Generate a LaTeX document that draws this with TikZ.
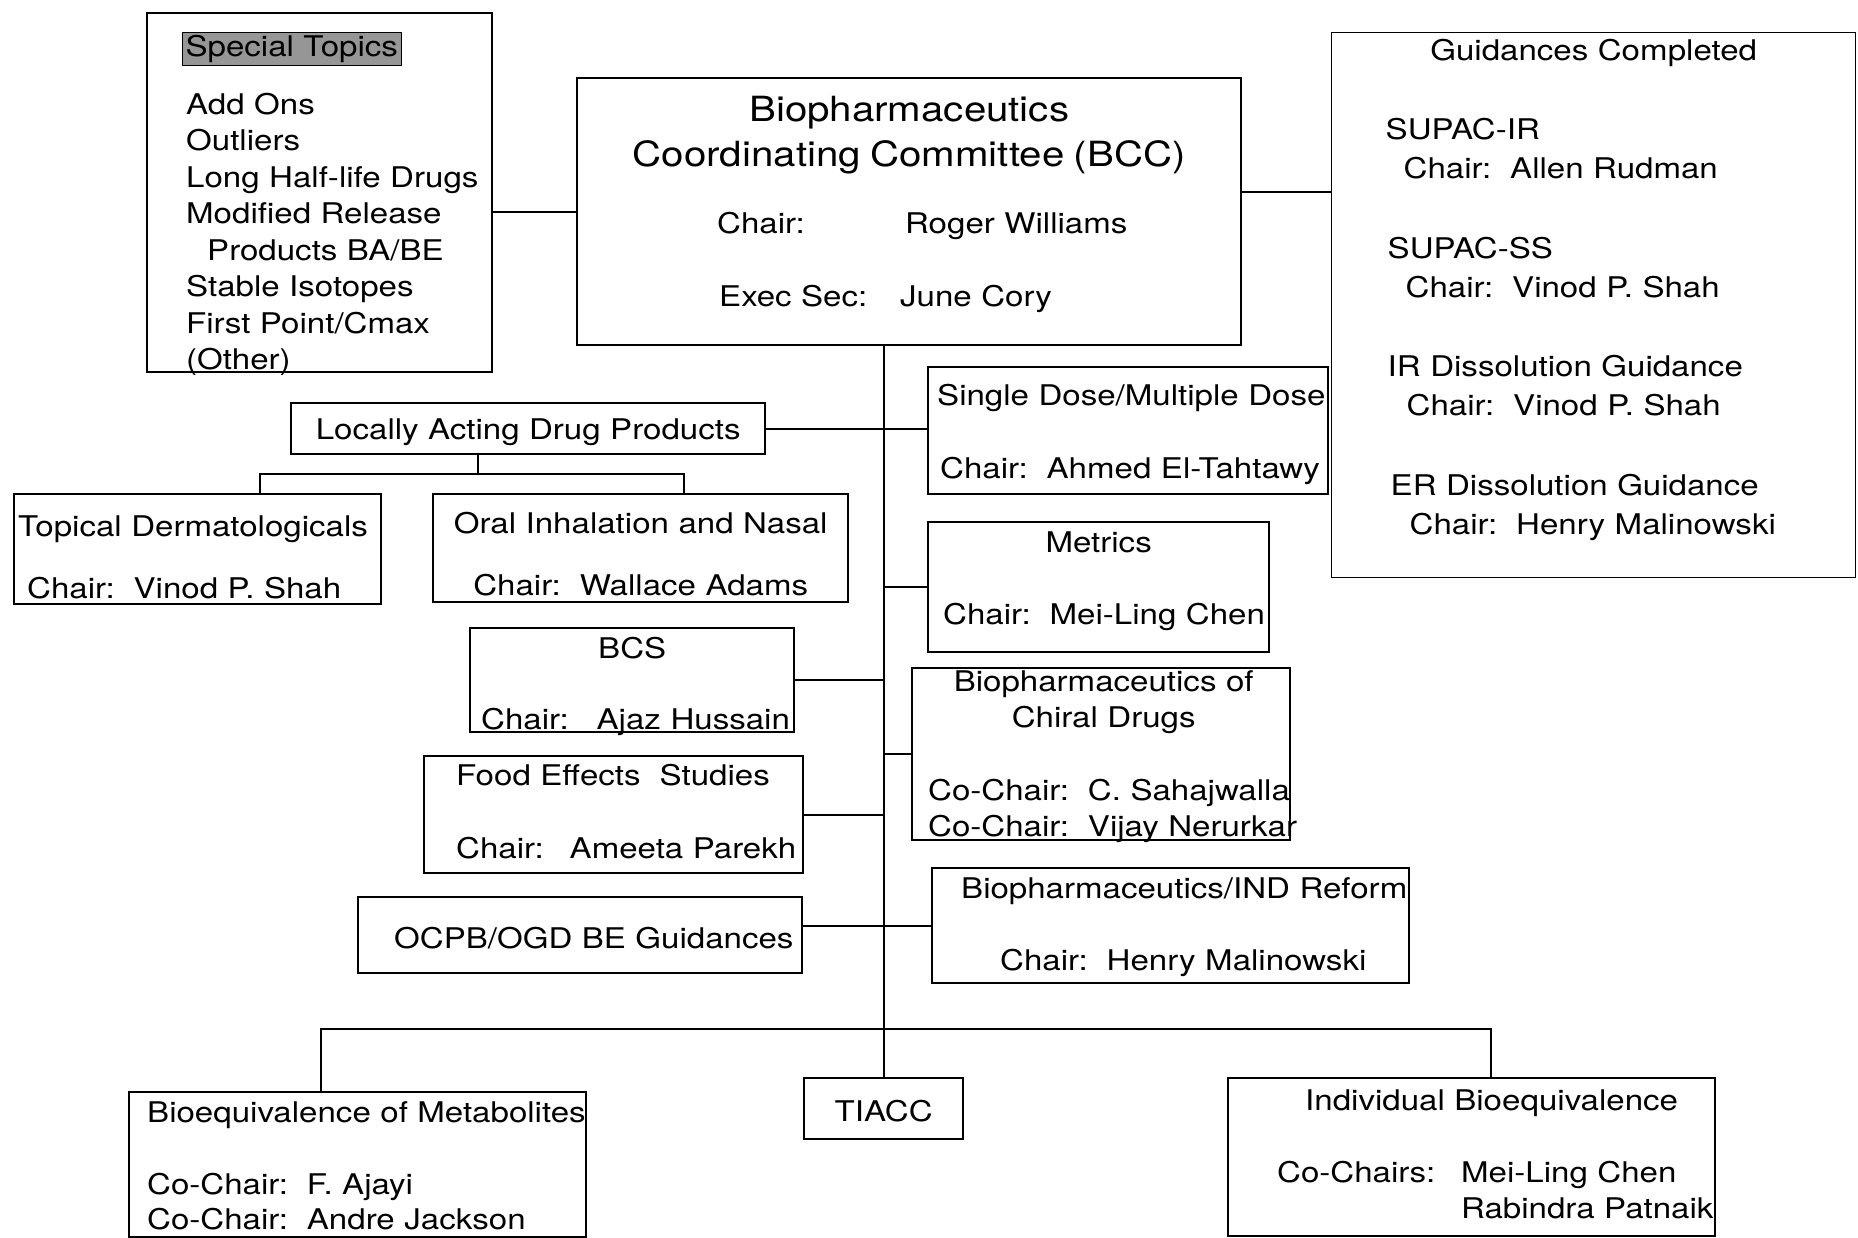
\documentclass[tikz,border=0pt]{standalone}
\usepackage{fontspec}
\setmainfont{TeX Gyre Heros}[FakeStretch=1.16]
\usepackage{xcolor}
\usepackage{tikz}
\definecolor{tophighlight}{RGB}{150,150,150}
\newcommand{\boxfont}{\fontsize{28.5pt}{36.5pt}\selectfont}
\newcommand{\bccfont}{\fontsize{34.7pt}{45pt}\selectfont}
\newcommand{\midline}[1]{\hfill#1\hfill\null}
\newcommand{\chairgap}{\hspace{19pt}}

\begin{document}
\begin{tikzpicture}[
  x=1pt, y=-1pt,
  font=\boxfont,
  unit/.style={draw, line width=2.4pt, anchor=north west, align=left, inner xsep=-20pt, inner ysep=0pt},
  guide/.style={unit, line width=1.4pt},
  link/.style={line width=2pt}
]
\path[fill=white, use as bounding box] (0,0) rectangle (1858,1238);

\node[unit, text width=385pt, text height=43pt, text depth=316pt] (special) at (146,12)
  {\leftskip=59pt\hspace*{-4pt}\fcolorbox{black}{tophighlight}{Special Topics}\\[21.5pt]
   Add Ons\\Outliers\\Long Half-life Drugs\\Modified Release\\\hspace*{21pt}Products BA/BE\\Stable Isotopes\\First Point/Cmax\\(Other)\par};
\node[unit, text width=704pt, text height=43pt, text depth=224pt] (bcc) at (576,77)
  {{\bccfont\midline{Biopharmaceutics}\\[8.5pt]\midline{Coordinating Committee (BCC)}}\\[31pt]
   \hspace*{160pt}\makebox[188pt][l]{Chair:}Roger Williams\\[36.5pt]
   \hspace*{162pt}\makebox[181pt][l]{Exec Sec:}June Cory};
\node[guide, text width=564pt, text height=28pt, text depth=517pt] (guid) at (1331,32)
  {\midline{Guidances Completed}\\[42.5pt]
   \hspace*{74pt}SUPAC-IR\\[2.5pt]
   \hspace*{92pt}Chair:\chairgap Allen Rudman\\[43.5pt]
   \hspace*{76pt}SUPAC-SS\\[2.5pt]
   \hspace*{94pt}Chair:\chairgap Vinod P. Shah\\[42.5pt]
   \hspace*{76pt}IR Dissolution Guidance\\[2.5pt]
   \hspace*{95pt}Chair:\chairgap Vinod P. Shah\\[43.5pt]
   \hspace*{79pt}ER Dissolution Guidance\\[2.5pt]
   \hspace*{98pt}Chair:\chairgap Henry Malinowski};

\node[unit, text width=514pt, text height=36pt, text depth=15pt] (ladp) at (290,402)
  {\midline{Locally Acting Drug Products}};
\node[unit, text width=407pt, text height=42pt, text depth=68pt] (topical) at (13,493)
  {\hspace*{24pt}Topical Dermatologicals\\[25.5pt]\hspace*{33pt}Chair:\chairgap Vinod P. Shah};
\node[unit, text width=455pt, text height=39pt, text depth=69pt] (oral) at (432,493)
  {\midline{Oral Inhalation and Nasal}\\[25.5pt]\midline{Chair:\chairgap Wallace Adams}};
\node[unit, text width=364pt, text height=30pt, text depth=74pt] (bcs) at (469,627)
  {\midline{BCS}\\[34.5pt]\hspace*{31pt}Chair:\hspace{28pt}Ajaz Hussain};
\node[unit, text width=419pt, text height=29pt, text depth=88pt] (food) at (423,755)
  {\hspace*{52pt}Food Effects~ Studies\\[36.5pt]\hspace*{52pt}Chair:\hspace{26pt}Ameeta Parekh};
\node[unit, text width=484pt, text height=51pt, text depth=25pt] (ocpb) at (357,896)
  {\hspace*{56pt}OCPB/OGD BE Guidances};

\node[unit, text width=440pt, text height=38pt, text depth=89pt] (single) at (927,366)
  {\hspace*{29pt}Single Dose/Multiple Dose\\[36.5pt]\hspace*{32pt}Chair:\chairgap Ahmed El-Tahtawy};
\node[unit, text width=381pt, text height=30pt, text depth=100pt] (metrics) at (927,521)
  {\midline{Metrics}\\[35.5pt]\hspace*{35pt}Chair:\chairgap Mei-Ling Chen};
\node[unit, text width=418pt, text height=23pt, text depth=149pt] (chiral) at (911,667)
  {\hspace*{5pt}\midline{Biopharmaceutics of}\\[-0.5pt]\hspace*{5pt}\midline{Chiral Drugs}\\[36.5pt]
   \hspace*{36pt}Co-Chair:\chairgap C. Sahajwalla\\[-0.5pt]\hspace*{36pt}Co-Chair:\chairgap Vijay Nerurkar};
\node[unit, text width=517pt, text height=30pt, text depth=85pt] (ind) at (931,867)
  {\hspace*{49pt}Biopharmaceutics/IND Reform\\[35.5pt]\hspace*{88pt}Chair:\chairgap Henry Malinowski};

\node[unit, text width=497pt, text height=30pt, text depth=115pt] (bem) at (128,1091)
  {\leftskip=38pt Bioequivalence of Metabolites\\[35.5pt]Co-Chair:\chairgap F. Ajayi\\[-1.5pt]Co-Chair:\chairgap Andre Jackson\par};
\node[unit, text width=199pt, text height=43pt, text depth=18pt] (tiacc) at (803,1077)
  {\midline{TIACC}};
\node[unit, text width=527pt, text height=32pt, text depth=126pt] (ibe) at (1227,1077)
  {\hspace*{97pt}Individual Bioequivalence\\[35.5pt]
   \hspace*{69pt}\makebox[184pt][l]{Co-Chairs:}Mei-Ling Chen\\[-0.5pt]\hspace*{253pt}Rabindra Patnaik};

\coordinate (lbar) at (478,474);
\coordinate (bbar) at (882.5,1029);

\draw[link] (bcc.west) -- (bcc.west -| special.east);
\draw[link] ([yshift=20pt]bcc.east) -- ([yshift=20pt]bcc.east -| guid.west);
\draw[link] (bcc.south -| tiacc.north) -- (tiacc.north);
\draw[link] (ladp.east) -- (ladp.east -| single.west);
\draw[link] (ladp.south -| lbar) -- (lbar);
\draw[link] ([xshift=62pt]topical.north) |- (lbar) -| ([xshift=43pt]oral.north);
\draw[link] (metrics.west) -- (metrics.west -| tiacc.north);
\draw[link] (bcs.east) -- (bcs.east -| tiacc.north);
\draw[link] (chiral.west) -- (chiral.west -| tiacc.north);
\draw[link] (food.east) -- (food.east -| tiacc.north);
\draw[link] (ind.west) -- (ind.west -| ocpb.east);
\draw[link] ([xshift=-36.5pt]bem.north) |- (bbar) -| ([xshift=19.5pt]ibe.north);
\end{tikzpicture}
\end{document}
